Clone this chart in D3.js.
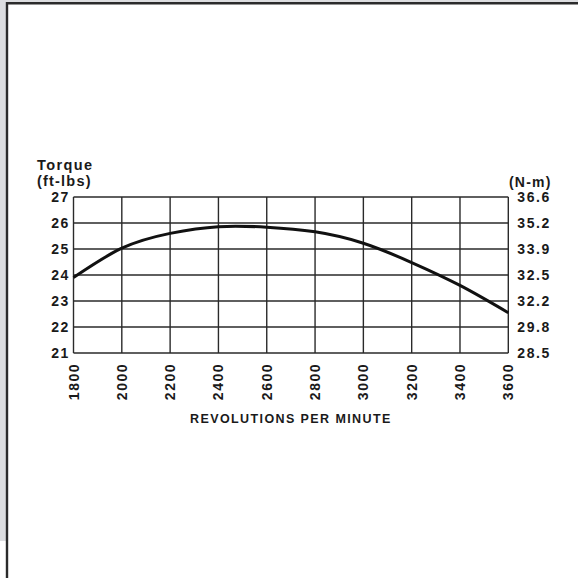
<!DOCTYPE html>
<html lang="en">
<head>
    <meta charset="UTF-8">
    <title>Torque curve</title>
    <script src="https://d3js.org/d3.v7.min.js"></script>
    <style>
        body {
            margin: 0;
            background: #dcdde0;
        }
        svg {
            display: block;
        }
        .lbl {
            font-family: "Liberation Sans", Arial, sans-serif;
            font-weight: bold;
            fill: #1a1a1a;
        }
    </style>
</head>
<body>
    <svg width="578" height="578"></svg>
    <script>
        // values
        const rpm = [1800, 2000, 2200, 2400, 2600, 2800, 3000, 3200, 3400, 3600];
        const torque = [23.9, 25.03, 25.6, 25.86, 25.84, 25.66, 25.22, 24.48, 23.6, 22.55];
        const ftLbsTicks = [21, 22, 23, 24, 25, 26, 27];
        const nmLabels = ["28.5", "29.8", "32.2", "32.5", "33.9", "35.2", "36.6"];

        const svg = d3.select("svg");

        // scanned page: white sheet with a dark edge on the left and top
        svg.append("rect").attr("x", 7).attr("y", 3).attr("width", 571).attr("height", 575).attr("fill", "#fff");
        svg.append("rect").attr("x", 0).attr("y", 541).attr("width", 7).attr("height", 37).attr("fill", "#fff");
        svg.append("line").attr("x1", 7).attr("x2", 7).attr("y1", 2).attr("y2", 578)
            .attr("stroke", "#2b2b2b").attr("stroke-width", 2.4);
        svg.append("line").attr("x1", 6).attr("x2", 578).attr("y1", 3.2).attr("y2", 3.2)
            .attr("stroke", "#2b2b2b").attr("stroke-width", 2.4);

        const x = d3.scaleLinear().domain([1800, 3600]).range([73.5, 508.3]);
        const y = d3.scaleLinear().domain([21, 27]).range([353, 197]);

        const g = svg.append("g");

        // grid
        g.selectAll(".vgrid")
            .data(rpm)
            .enter()
            .append("line")
            .attr("x1", d => x(d))
            .attr("x2", d => x(d))
            .attr("y1", y(27))
            .attr("y2", y(21))
            .attr("stroke", "#2a2a2a")
            .attr("stroke-width", 1.4);

        g.selectAll(".hgrid")
            .data(ftLbsTicks)
            .enter()
            .append("line")
            .attr("x1", x(1800))
            .attr("x2", x(3600))
            .attr("y1", d => y(d))
            .attr("y2", d => y(d))
            .attr("stroke", "#2a2a2a")
            .attr("stroke-width", 1.4);

        // curve
        const line = d3.line()
            .x((d, i) => x(rpm[i]))
            .y(d => y(d))
            .curve(d3.curveNatural);

        g.append("path")
            .datum(torque)
            .attr("d", line)
            .attr("fill", "none")
            .attr("stroke", "#111")
            .attr("stroke-width", 3);

        // left tick labels
        g.selectAll(".ylab")
            .data(ftLbsTicks)
            .enter()
            .append("text")
            .attr("class", "lbl")
            .attr("x", x(1800) - 4)
            .attr("y", d => y(d))
            .attr("dy", "0.36em")
            .attr("text-anchor", "end")
            .style("font-size", "14px")
            .style("letter-spacing", "1.3px")
            .text(d => d);

        // right tick labels (N-m)
        g.selectAll(".y2lab")
            .data(ftLbsTicks)
            .enter()
            .append("text")
            .attr("class", "lbl")
            .attr("x", x(3600) + 9)
            .attr("y", d => y(d))
            .attr("dy", "0.36em")
            .attr("text-anchor", "start")
            .style("font-size", "14px")
            .style("letter-spacing", "1.6px")
            .text((d, i) => nmLabels[i]);

        // x tick labels, rotated
        g.selectAll(".xlab")
            .data(rpm)
            .enter()
            .append("text")
            .attr("class", "lbl")
            .attr("transform", d => `translate(${x(d)},${y(21) + 10}) rotate(-90)`)
            .attr("dy", "0.36em")
            .attr("text-anchor", "end")
            .style("font-size", "14px")
            .style("letter-spacing", "1.5px")
            .text(d => d);

        // titles
        g.append("text")
            .attr("class", "lbl")
            .attr("x", 37)
            .attr("y", 170)
            .style("font-size", "14.5px")
            .style("letter-spacing", "1.4px")
            .text("Torque");

        g.append("text")
            .attr("class", "lbl")
            .attr("x", 37)
            .attr("y", 186)
            .style("font-size", "14.5px")
            .style("letter-spacing", "1.2px")
            .text("(ft-lbs)");

        g.append("text")
            .attr("class", "lbl")
            .attr("x", 509)
            .attr("y", 186.5)
            .style("font-size", "14px")
            .style("letter-spacing", "1.2px")
            .text("(N-m)");

        g.append("text")
            .attr("class", "lbl")
            .attr("x", (x(1800) + x(3600)) / 2)
            .attr("y", 422.7)
            .attr("text-anchor", "middle")
            .style("font-size", "12.5px")
            .style("letter-spacing", "1.4px")
            .text("REVOLUTIONS PER MINUTE");
    </script>
</body>
</html>
